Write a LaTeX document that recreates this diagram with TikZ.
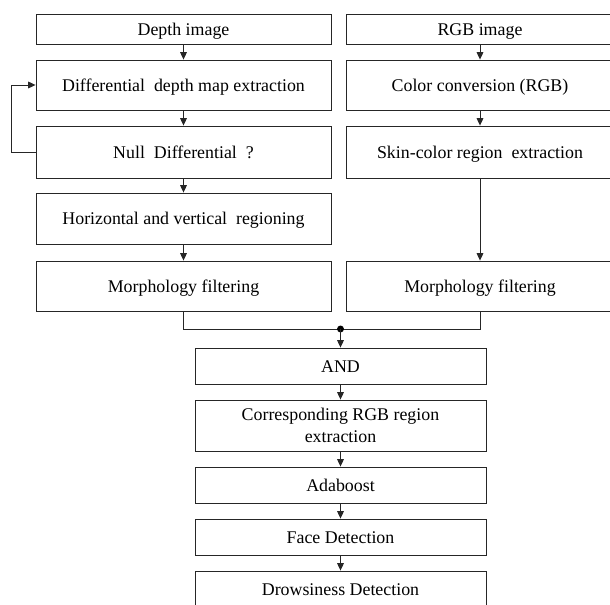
\documentclass[tikz,border=0pt]{standalone}
\usepackage{fontspec}
\setmainfont{Liberation Serif}
\usetikzlibrary{arrows.meta}

\begin{document}
\begin{tikzpicture}[x=0.75pt, y=-0.75pt,
  box/.style={draw=black!85, line width=0.65pt, align=center, inner sep=2pt,
    font=\fontsize{13.4}{16.5}\selectfont, text height=2.2ex, text depth=0.2ex},
  lbox/.style={box, minimum width=221.25pt},
  rbox/.style={box, minimum width=201pt},
  cbox/.style={box, minimum width=218.25pt},
  flow/.style={draw=black!85, line width=0.65pt, -{Triangle[length=5.5pt,width=5pt]}},
  link/.style={draw=black!85, line width=0.65pt}]
  \useasboundingbox (0,0) rectangle (610,605);
  % Depth branch (left column)
  \node[lbox, minimum height=22.5pt] (depth) at (183.5,29) {Depth image};
  \node[lbox, minimum height=37.5pt] (diff) at (183.5,85) {Differential\ \ depth map extraction};
  \node[lbox, minimum height=39pt] (null) at (183.5,152) {Null\ \ Differential\ \ ?};
  \node[lbox, minimum height=38.25pt] (regn) at (183.5,218.5) {Horizontal and vertical\ \ regioning};
  \node[lbox, minimum height=37.5pt] (morphL) at (183.5,286) {Morphology filtering};
  % RGB branch (right column)
  \node[rbox, minimum height=22.5pt] (rgb) at (480,29) {RGB image};
  \node[rbox, minimum height=37.5pt] (color) at (480,85) {Color conversion (RGB)};
  \node[rbox, minimum height=39pt] (skin) at (480,152) {Skin-color region\ \ extraction};
  \node[rbox, minimum height=37.5pt] (morphR) at (480,286) {Morphology filtering};
  % Common part (center column)
  \node[cbox, minimum height=27pt] (and) at (340.5,366) {AND};
  \node[cbox, minimum height=38.25pt, text height=, text depth=] (corr) at (340.5,425.5) {Corresponding RGB region\\extraction};
  \node[cbox, minimum height=27pt] (ada) at (340.5,485) {Adaboost};
  \node[cbox, minimum height=27pt] (face) at (340.5,537) {Face Detection};
  \node[cbox, minimum height=27pt] (drow) at (340.5,589) {Drowsiness Detection};
  % Arrows
  \draw[flow] (depth) -- (diff);
  \draw[flow] (diff) -- (null);
  \draw[flow] (null) -- (regn);
  \draw[flow] (regn) -- (morphL);
  \draw[flow] (null.west) -- ++(-24,0) |- (diff.west);
  \draw[flow] (rgb) -- (color);
  \draw[flow] (color) -- (skin);
  \draw[flow] (skin) -- (morphR);
  % Merge of both branches
  \coordinate (join) at (340.5,329);
  \draw[link] (morphL.south) |- (join);
  \draw[link] (morphR.south) |- (join);
  \fill[black] (join) circle (2.6pt);
  \draw[flow] (join) -- (and);
  \draw[flow] (and) -- (corr);
  \draw[flow] (corr) -- (ada);
  \draw[flow] (ada) -- (face);
  \draw[flow] (face) -- (drow);
\end{tikzpicture}
\end{document}
